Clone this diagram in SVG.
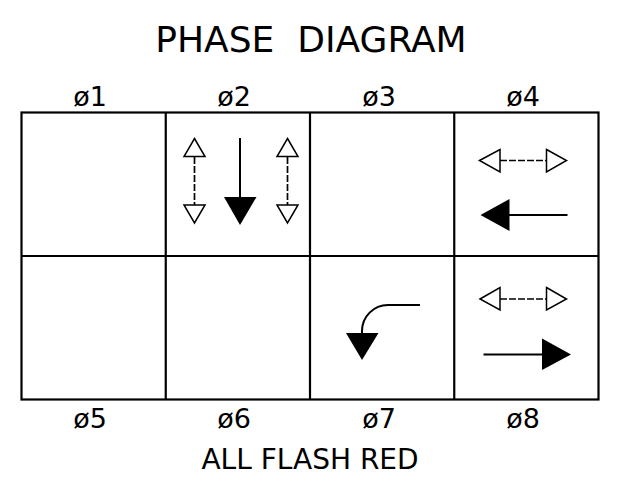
<svg xmlns="http://www.w3.org/2000/svg" width="622" height="487" viewBox="0 0 622 487">
<style>
text{font-family:"DejaVu Sans","Verdana",sans-serif;fill:#000;text-anchor:middle}
.title{font-size:36px;white-space:pre}
.lbl{font-size:27px}
.foot{font-size:28px}
.grid{fill:none;stroke:#000;stroke-width:2.2}
.solid{fill:none;stroke:#000;stroke-width:2}
.dash{fill:none;stroke:#000;stroke-width:1.7;stroke-dasharray:7 2}
.hollow{fill:#fff;stroke:#000;stroke-width:1.5;stroke-linejoin:miter}
.fill{fill:#000;stroke:none}
</style>
<rect width="622" height="487" fill="#fff"/>
<text class="title" x="311" y="52">PHASE  DIAGRAM</text>
<g id="grid">
<rect class="grid" x="21.5" y="112.5" width="577" height="287"/>
<line class="grid" x1="165.75" y1="112.5" x2="165.75" y2="399.5"/>
<line class="grid" x1="310" y1="112.5" x2="310" y2="399.5"/>
<line class="grid" x1="454.25" y1="112.5" x2="454.25" y2="399.5"/>
<line class="grid" x1="21.5" y1="256" x2="598.5" y2="256"/>
</g>
<g id="labels">
<text class="lbl" x="90" y="106">ø1</text>
<text class="lbl" x="234" y="106">ø2</text>
<text class="lbl" x="379" y="106">ø3</text>
<text class="lbl" x="523" y="106">ø4</text>
<text class="lbl" x="90" y="428">ø5</text>
<text class="lbl" x="234" y="428">ø6</text>
<text class="lbl" x="379" y="428">ø7</text>
<text class="lbl" x="523" y="428">ø8</text>
<text class="foot" x="310" y="469">ALL FLASH RED</text>
</g>
<g id="connectors">
<g id="p2-left-ped">
<line class="dash" x1="194.5" y1="157" x2="194.5" y2="205"/>
<polygon class="hollow" points="194.5,138.5 205,156.5 184,156.5"/>
<polygon class="hollow" points="184,205 205,205 194.5,223"/>
</g>
<g id="p2-through">
<line class="solid" x1="240" y1="138" x2="240" y2="200"/>
<polygon class="fill" points="224,197 256.5,197 240,225"/>
</g>
<g id="p2-right-ped">
<line class="dash" x1="287.5" y1="157" x2="287.5" y2="205"/>
<polygon class="hollow" points="287.5,138.5 298,156.5 277,156.5"/>
<polygon class="hollow" points="277,205 298,205 287.5,223"/>
</g>
<g id="p4-ped">
<line class="dash" x1="500" y1="160.5" x2="546.5" y2="160.5"/>
<polygon class="hollow" points="479.5,160.5 500,149.5 500,172"/>
<polygon class="hollow" points="546.5,149.5 566.5,160.5 546.5,172"/>
</g>
<g id="p4-through">
<line class="solid" x1="567.5" y1="215" x2="506" y2="215"/>
<polygon class="fill" points="480.5,215 509.5,199 509.5,231"/>
</g>
<g id="p7-left">
<path class="solid" d="M420,305 L388,305 A26,26 0 0 0 362,331 L362,336"/>
<polygon class="fill" points="346,333 378.5,333 362,360"/>
</g>
<g id="p8-ped">
<line class="dash" x1="500" y1="299" x2="546.5" y2="299"/>
<polygon class="hollow" points="480,299 500,287.5 500,310"/>
<polygon class="hollow" points="546.5,287.5 566.5,299 546.5,310"/>
</g>
<g id="p8-through">
<line class="solid" x1="483.5" y1="354.5" x2="545" y2="354.5"/>
<polygon class="fill" points="542,338.5 571,354.5 542,370"/>
</g>
</g>
</svg>
